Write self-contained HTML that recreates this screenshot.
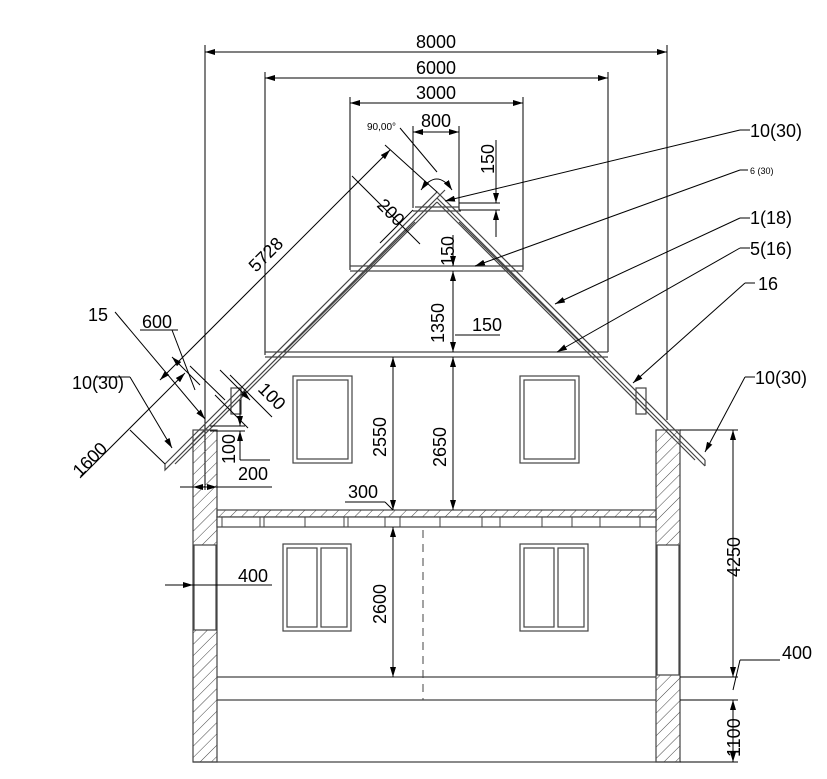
<!DOCTYPE html>
<html><head><meta charset="utf-8"><style>
html,body{margin:0;padding:0;background:#fff;}
svg{display:block;}
text{font-family:"Liberation Sans",sans-serif;fill:#000;}
</style></head><body>
<svg width="827" height="779" viewBox="0 0 827 779" xmlns="http://www.w3.org/2000/svg">
<defs>
<pattern id="h" width="8" height="8" patternUnits="userSpaceOnUse" patternTransform="rotate(45)">
<line x1="0" y1="0" x2="0" y2="8" stroke="#444" stroke-width="1"/>
</pattern>
<marker id="a" markerWidth="10" markerHeight="6" refX="10" refY="3" orient="auto-start-reverse" markerUnits="userSpaceOnUse">
<path d="M0,0 L10,3 L0,6 z" fill="#000"/>
</marker>
</defs>
<g stroke="#000" stroke-width="1" fill="none">
<line x1="205" y1="52" x2="667" y2="52" marker-start="url(#a)" marker-end="url(#a)"/>
<line x1="205" y1="45" x2="205" y2="490"/>
<line x1="667" y1="45" x2="667" y2="420"/>
<line x1="265" y1="78" x2="608" y2="78" marker-start="url(#a)" marker-end="url(#a)"/>
<line x1="265" y1="72" x2="265" y2="355"/>
<line x1="608" y1="72" x2="608" y2="352"/>
<line x1="350" y1="103" x2="523" y2="103" marker-start="url(#a)" marker-end="url(#a)"/>
<line x1="350" y1="97" x2="350" y2="270"/>
<line x1="523" y1="97" x2="523" y2="270"/>
<line x1="413" y1="132" x2="459" y2="132" marker-start="url(#a)" marker-end="url(#a)"/>
<line x1="413" y1="126" x2="413" y2="208"/>
<line x1="459" y1="126" x2="459" y2="210"/>
<line x1="459" y1="203" x2="500" y2="203"/>
<line x1="459" y1="210" x2="500" y2="210"/>
<line x1="496" y1="140" x2="496" y2="203" marker-end="url(#a)"/>
<line x1="496" y1="237" x2="496" y2="210" marker-end="url(#a)"/>
<line x1="400" y1="128" x2="437" y2="172"/>
<path d="M421,190 Q437,168 452,190" marker-start="url(#a)" marker-end="url(#a)"/>
</g>
<g stroke="#444" stroke-width="1.2" fill="none">
<polyline points="165,464 437,192 705,460"/>
<polyline points="165,464 165,470 445,190"/>
<line x1="437" y1="202" x2="175" y2="464"/>
<line x1="437" y1="202" x2="695" y2="460"/>
<line x1="705" y1="460" x2="705" y2="466"/>
<line x1="705" y1="466" x2="437" y2="198"/>
<line x1="415" y1="222" x2="284" y2="352"/>
<line x1="459" y1="222" x2="590" y2="352"/>
<line x1="415" y1="207" x2="459" y2="207"/>
<line x1="413" y1="211" x2="461" y2="211"/>
<line x1="350" y1="266" x2="523" y2="266"/>
<line x1="350" y1="271" x2="523" y2="271"/>
<line x1="265" y1="352" x2="608" y2="352"/>
<line x1="265" y1="357" x2="608" y2="357"/>
<rect x="231" y="388" width="10" height="26"/>
<rect x="636" y="388" width="10" height="26"/>
<rect x="293" y="376" width="59" height="87"/>
<rect x="297" y="380" width="51" height="79"/>
<rect x="520" y="376" width="59" height="87"/>
<rect x="524" y="380" width="51" height="79"/>
<rect x="283" y="544" width="68" height="87"/>
<rect x="287" y="548" width="30" height="79"/>
<rect x="321" y="548" width="26" height="79"/>
<rect x="520" y="544" width="68" height="87"/>
<rect x="524" y="548" width="30" height="79"/>
<rect x="558" y="548" width="26" height="79"/>
<line x1="217" y1="677" x2="656" y2="677"/>
<line x1="217" y1="700" x2="656" y2="700"/>
<line x1="193" y1="762" x2="680" y2="762"/>
</g>
<g stroke="#444" stroke-width="1.2">
<rect x="193" y="430" width="24" height="332" fill="url(#h)"/>
<rect x="656" y="430" width="24" height="332" fill="url(#h)"/>
<rect x="194" y="545" width="22" height="85" fill="#fff"/>
<rect x="657" y="545" width="22" height="130" fill="#fff"/>
<rect x="217" y="510" width="439" height="7" fill="url(#h)"/>
<rect x="217" y="517" width="439" height="10" fill="#fff"/>
</g>
<g stroke="#444" stroke-width="1">
<line x1="222" y1="517" x2="222" y2="527"/><line x1="260" y1="517" x2="260" y2="527"/><line x1="264" y1="517" x2="264" y2="527"/>
<line x1="305" y1="517" x2="305" y2="527"/><line x1="344" y1="517" x2="344" y2="527"/><line x1="348" y1="517" x2="348" y2="527"/>
<line x1="385" y1="517" x2="385" y2="527"/><line x1="400" y1="517" x2="400" y2="527"/><line x1="440" y1="517" x2="440" y2="527"/>
<line x1="482" y1="517" x2="482" y2="527"/><line x1="500" y1="517" x2="500" y2="527"/><line x1="542" y1="517" x2="542" y2="527"/>
<line x1="572" y1="517" x2="572" y2="527"/><line x1="600" y1="517" x2="600" y2="527"/><line x1="640" y1="517" x2="640" y2="527"/>
<line x1="423" y1="530" x2="423" y2="700" stroke-dasharray="8,6"/>
</g>
<g stroke="#000" stroke-width="1" fill="none">
<line x1="393" y1="357" x2="393" y2="510" marker-start="url(#a)" marker-end="url(#a)"/>
<line x1="453" y1="357" x2="453" y2="510" marker-start="url(#a)" marker-end="url(#a)"/>
<line x1="453" y1="271" x2="453" y2="352" marker-start="url(#a)" marker-end="url(#a)"/>
<line x1="453" y1="235" x2="453" y2="266" marker-end="url(#a)"/>
<line x1="393" y1="527" x2="393" y2="677" marker-start="url(#a)" marker-end="url(#a)"/>
<line x1="733" y1="430" x2="733" y2="677" marker-start="url(#a)" marker-end="url(#a)"/>
<line x1="733" y1="700" x2="733" y2="762" marker-start="url(#a)" marker-end="url(#a)"/>
<line x1="680" y1="430" x2="738" y2="430"/>
<line x1="680" y1="677" x2="738" y2="677"/>
<line x1="680" y1="700" x2="738" y2="700"/>
<line x1="680" y1="762" x2="738" y2="762"/>
<line x1="180" y1="487" x2="272" y2="487"/>
<line x1="193" y1="487" x2="217" y2="487" marker-start="url(#a)" marker-end="url(#a)"/>
<line x1="165" y1="585" x2="272" y2="585"/>
<line x1="180" y1="585" x2="193" y2="585" marker-end="url(#a)"/>
<line x1="210" y1="426" x2="245" y2="426"/>
<line x1="210" y1="431" x2="245" y2="431"/>
<line x1="240" y1="400" x2="240" y2="426" marker-end="url(#a)"/>
<line x1="240" y1="460" x2="240" y2="431" marker-end="url(#a)"/>
<line x1="240" y1="460" x2="270" y2="460"/>
<line x1="160" y1="380" x2="390" y2="150" marker-start="url(#a)" marker-end="url(#a)"/>
<line x1="385" y1="145" x2="437" y2="192"/>
<line x1="80" y1="478" x2="185" y2="373" marker-end="url(#a)"/>
<line x1="130" y1="430" x2="165" y2="464"/>
<line x1="352" y1="176" x2="420" y2="244"/>
<line x1="380" y1="243" x2="413" y2="210"/>
<line x1="230" y1="375" x2="272" y2="417"/>
<line x1="215" y1="395" x2="248" y2="428"/>
<line x1="220" y1="370" x2="250" y2="400" marker-end="url(#a)"/>
<line x1="172" y1="357" x2="200" y2="385" marker-start="url(#a)"/>
<line x1="190" y1="366" x2="225" y2="400"/>
<line x1="115" y1="312" x2="205" y2="419" marker-end="url(#a)"/>
<line x1="140" y1="330" x2="178" y2="330"/>
<line x1="172" y1="330" x2="195" y2="390"/>
<line x1="95" y1="377" x2="130" y2="377"/>
<line x1="130" y1="377" x2="172" y2="448" marker-end="url(#a)"/>
<line x1="750" y1="130" x2="740" y2="130"/>
<line x1="740" y1="130" x2="445" y2="201" marker-end="url(#a)"/>
<line x1="748" y1="170" x2="740" y2="170"/>
<line x1="740" y1="170" x2="475" y2="266" marker-end="url(#a)"/>
<line x1="750" y1="218" x2="740" y2="218"/>
<line x1="740" y1="218" x2="555" y2="304" marker-end="url(#a)"/>
<line x1="750" y1="248" x2="740" y2="248"/>
<line x1="740" y1="248" x2="557" y2="352" marker-end="url(#a)"/>
<line x1="755" y1="283" x2="745" y2="283"/>
<line x1="745" y1="283" x2="633" y2="383" marker-end="url(#a)"/>
<line x1="755" y1="377" x2="745" y2="377"/>
<line x1="745" y1="377" x2="705" y2="452" marker-end="url(#a)"/>
<line x1="740" y1="660" x2="733" y2="690"/>
<line x1="740" y1="660" x2="780" y2="660"/>
<line x1="345" y1="502" x2="385" y2="502"/>
<line x1="385" y1="502" x2="393" y2="510"/>
<line x1="455" y1="335" x2="500" y2="335"/>
</g>
<g font-size="18">
<text x="436" y="48" text-anchor="middle">8000</text>
<text x="436" y="74" text-anchor="middle">6000</text>
<text x="436" y="99" text-anchor="middle">3000</text>
<text x="436" y="127" text-anchor="middle">800</text>
<text x="367" y="130" font-size="10">90,00°</text>
<text x="750" y="137">10(30)</text>
<text x="750" y="174" font-size="9">6 (30)</text>
<text x="750" y="224">1(18)</text>
<text x="750" y="255">5(16)</text>
<text x="758" y="290">16</text>
<text x="755" y="384">10(30)</text>
<text x="782" y="659">400</text>
<text x="88" y="321">15</text>
<text x="142" y="328">600</text>
<text x="72" y="389">10(30)</text>
<text x="238" y="480">200</text>
<text x="238" y="582">400</text>
<text x="348" y="498">300</text>
<text x="472" y="331">150</text>
<text transform="translate(494,174) rotate(-90)">150</text>
<text transform="translate(454,266) rotate(-90)">150</text>
<text transform="translate(444,343) rotate(-90)">1350</text>
<text transform="translate(386,457) rotate(-90)">2550</text>
<text transform="translate(446,467) rotate(-90)">2650</text>
<text transform="translate(386,624) rotate(-90)">2600</text>
<text transform="translate(740,577) rotate(-90)">4250</text>
<text transform="translate(740,757) rotate(-90)">1100</text>
<text transform="translate(235,464) rotate(-90)">100</text>
<text transform="translate(256,273) rotate(-45)">5728</text>
<text transform="translate(80,478) rotate(-45)">1600</text>
<text transform="translate(376,206) rotate(45)">200</text>
<text transform="translate(257,390) rotate(45)">100</text>
</g>
</svg>
</body></html>
